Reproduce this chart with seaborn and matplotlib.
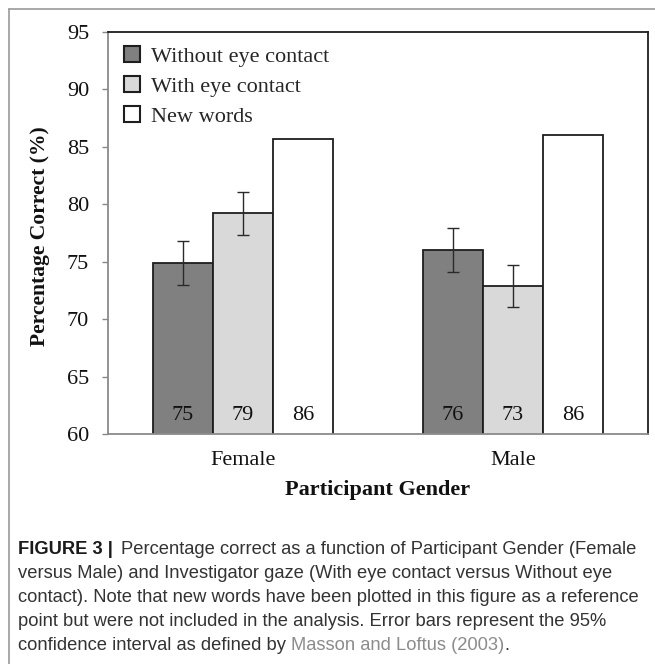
# plot.py
# Recognition accuracy by participant gender and investigator gaze

import seaborn as sns
import matplotlib.pyplot as plt
import pandas as pd
from matplotlib.patches import Patch
from matplotlib.lines import Line2D

# data
genders = ["Female", "Male"]
conditions = ["Without eye contact", "With eye contact", "New words"]
without_contact = [74.9, 76.0]
with_contact = [79.2, 72.9]
new_words = [85.7, 86.0]
ci_without = [1.9, 1.9]
ci_with = [1.85, 1.85]
bar_colors = ["#808080", "#d9d9d9", "#ffffff"]
yticks = [60, 65, 70, 75, 80, 85, 90, 95]

caption_lines = [
    "versus Male) and Investigator gaze (With eye contact versus Without eye",
    "contact). Note that new words have been plotted in this figure as a reference",
    "point but were not included in the analysis. Error bars represent the 95%",
]
caption_first = "Percentage correct as a function of Participant Gender (Female"
caption_last = ["confidence interval as defined by ", "Masson and Loftus (2003)", "."]

SERIF = ["Liberation Serif", "DejaVu Serif"]
SANS = ["Liberation Sans", "DejaVu Sans"]


def build_frame():
    rows = []
    for cond, vals in zip(conditions, [without_contact, with_contact, new_words]):
        for g, v in zip(genders, vals):
            rows.append({"gender": g, "condition": cond, "pct": v})
    return pd.DataFrame(rows)


def plot_chart():
    df = build_frame()
    sns.set_style("white")
    plt.rcParams["font.family"] = SERIF
    fsz = 16.0

    fig = plt.figure(figsize=(6.55, 6.64), dpi=100)
    ax = fig.add_axes([108 / 655, 1 - 434 / 664, 540 / 655, 402 / 664])

    sns.barplot(data=df, x="gender", y="pct", hue="condition", order=genders,
                hue_order=conditions, palette=bar_colors, edgecolor="#1e1e1e",
                linewidth=1.3, width=0.667, gap=0, errorbar=None, legend=False, ax=ax)

    # error bars and value labels on the bars
    errs = [ci_without, ci_with, None]
    for cont, err, vals in zip(ax.containers, errs, [without_contact, with_contact, new_words]):
        for bar, i in zip(cont, range(len(genders))):
            xc = bar.get_x() + bar.get_width() / 2
            if err is not None:
                ax.errorbar(xc, vals[i], yerr=err[i], color="#2a2a2a", lw=1.0,
                            capsize=4, capthick=1.0, zorder=5)
            ax.text(xc, 61.6, f"{round(vals[i])}", ha="center", va="center",
                    fontsize=fsz, color="#111111", family=SERIF)

    ax.set_ylim(60, 95)
    ax.set_xlim(-0.5, 1.5)
    ax.set_yticks(yticks)
    ax.tick_params(axis="y", length=4.5, width=1, color="#888888", pad=9,
                   labelsize=fsz, left=True)
    ax.tick_params(axis="x", length=0, pad=12, labelsize=fsz)
    for lab in ax.get_xticklabels() + ax.get_yticklabels():
        lab.set_color("#111111")

    for side in ["left", "bottom"]:
        ax.spines[side].set_color("#8a8a8a")
        ax.spines[side].set_linewidth(1.3)
    for side in ["top", "right"]:
        ax.spines[side].set_color("#1e1e1e")
        ax.spines[side].set_linewidth(1.3)
        ax.spines[side].set_visible(True)

    ax.set_ylabel("Percentage Correct (%)", fontsize=fsz - 0.4, fontweight="bold", color="#111111")
    ax.yaxis.set_label_coords((40 - 108) / 540, (434 - 236) / 402)
    ax.yaxis.label.set_va("center")
    ax.set_xlabel("Participant Gender", fontsize=fsz, fontweight="bold", color="#111111")
    ax.xaxis.set_label_coords(0.5, (434 - 490) / 402)
    ax.xaxis.label.set_va("center")

    handles = [Patch(facecolor=c, edgecolor="#1e1e1e", linewidth=1.5) for c in bar_colors]
    ax.legend(handles, conditions, loc="upper left", bbox_to_anchor=(0.03, 0.965),
              frameon=False, borderpad=0, borderaxespad=0, handlelength=0.72,
              handleheight=0.72, handletextpad=0.5, labelspacing=0.42,
              prop={"family": SERIF, "size": fsz})

    # outer panel border
    fig.add_artist(Line2D([9 / 655, 9 / 655], [0, 1 - 9 / 664], transform=fig.transFigure,
                          color="#9a9a9a", lw=1.2))
    fig.add_artist(Line2D([9 / 655, 1], [1 - 9 / 664, 1 - 9 / 664], transform=fig.transFigure,
                          color="#9a9a9a", lw=1.2))

    # caption
    fs = 13.2
    x0 = 18 / 655
    line_y = [549, 573, 597, 621, 645]
    renderer = fig.canvas.get_renderer()

    def put(x, y, s, **kw):
        t = fig.text(x, 1 - y / 664, s, ha="left", va="center", fontsize=fs, family=SANS, **kw)
        bb = t.get_window_extent(renderer=renderer)
        return x + bb.width / fig.bbox.width

    x = put(x0, line_y[0], "FIGURE 3 | ", fontweight="bold", color="#1a1a1a")
    put(x + 3 / 655, line_y[0], caption_first, color="#333333")
    for y, s in zip(line_y[1:4], caption_lines):
        put(x0, y, s, color="#333333")
    x = put(x0, line_y[4], caption_last[0], color="#333333")
    x = put(x, line_y[4], caption_last[1], color="#8c8c8c")
    put(x, line_y[4], caption_last[2], color="#333333")

    fig.savefig("out.png", dpi=100)


if __name__ == "__main__":
    plot_chart()
